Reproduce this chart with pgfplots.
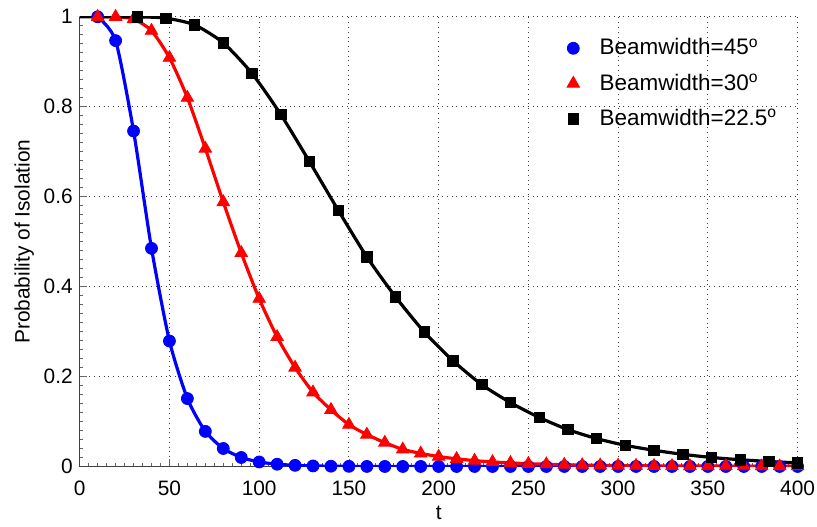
\documentclass[border=0pt]{standalone}
\usepackage{fontspec}
\setmainfont{Liberation Sans}
\usepackage{pgfplots}
\pgfplotsset{compat=1.18}
\usepackage{pgfplotstable}
\pgfplotsset{mylegend/.style={legend image code/.code={\draw[##1] plot coordinates {(0bp,0bp)};\path (-4bp,0bp) (11bp,0bp);}}}

\pgfplotstableread{
x y
10 1.000
20 0.947
30 0.746
40 0.485
50 0.279
60 0.151
70 0.078
80 0.040
90 0.020
100 0.010
110 0.005
120 0.0025
130 0.0012
140 0.0006
150 0.0003
160 0.0001
170 0
180 0
190 0
200 0
210 0
220 0
230 0
240 0
250 0
260 0
270 0
280 0
290 0
300 0
310 0
320 0
330 0
340 0
350 0
360 0
370 0
380 0
390 0
400 0
}\blueT

\pgfplotstableread{
x y
10 1.000
20 1.000
30 0.995
40 0.969
50 0.909
60 0.820
70 0.707
80 0.588
90 0.475
100 0.373
110 0.288
120 0.220
130 0.165
140 0.126
150 0.093
160 0.071
170 0.053
180 0.038
190 0.029
200 0.022
210 0.017
220 0.013
230 0.010
240 0.008
250 0.006
260 0.005
270 0.004
280 0.003
290 0.0025
300 0.002
310 0.0017
320 0.0014
330 0.0012
340 0.0010
350 0.0009
360 0.0008
370 0.0007
380 0.0006
390 0.0005
400 0.0005
}\redT

\pgfplotstableread{
x y
0 1.000
16 1.000
32 1.000
48 0.997
64 0.982
80 0.942
96 0.874
112 0.783
128 0.678
144 0.570
160 0.466
176 0.377
192 0.299
208 0.235
224 0.182
240 0.142
256 0.109
272 0.082
288 0.062
304 0.047
320 0.036
336 0.027
352 0.020
368 0.015
384 0.011
400 0.008
}\blackT

\begin{document}
\begin{tikzpicture}
\begin{axis}[
  scale only axis,
  width=360bp, height=225.5bp,
  xmin=0, xmax=400, ymin=0, ymax=1,
  axis lines*=left,
  axis line style={black!75, line width=0.6bp},
  xtick={0,50,...,400},
  ytick={0,0.2,0.4,0.6,0.8,1},
  minor x tick num=9,
  minor y tick num=9,
  tick align=inside,
  major tick length=3.5bp,
  minor tick length=1.8bp,
  tick style={black!60, line width=0.4bp},
  grid=major,
  major grid style={dotted, black!75, line width=0.5bp},
  /pgf/number format/assume math mode=true,
  tick label style={font=\fontsize{10.5}{12}\selectfont},
  xticklabel style={yshift=-3.5bp, inner xsep=1bp},
  label style={font=\fontsize{10.5}{12}\selectfont},
  xlabel={t},
  ylabel={Probability of Isolation},
  xlabel style={yshift=1.5bp},
  ylabel style={yshift=-2bp},
  legend style={draw=none, fill=none, at={(0.986,0.97)}, anchor=north east,
    font=\fontsize{11.3}{13}\selectfont, row sep=4bp},
  legend cell align=left,
]
\addplot[blue, line width=1.6bp, smooth, tension=0.4, forget plot] table {\blueT};
\addplot[blue, only marks, mark=*, mark size=3bp, mylegend] table {\blueT};
\addlegendentry{Beamwidth=45\textsuperscript{o}}
\addplot[red, line width=1.6bp, smooth, tension=0.4, forget plot] table {\redT};
\addplot[red, only marks, mark=triangle*, mark size=3.6bp, mylegend] table {\redT};
\addlegendentry{Beamwidth=30\textsuperscript{o}}
\addplot[black, line width=1.6bp, smooth, tension=0.4, forget plot] table {\blackT};
\addplot[black, only marks, mark=square*, mark size=2.6bp, mylegend,
  skip coords between index={0}{2}] table {\blackT};
\addlegendentry{Beamwidth=22.5\textsuperscript{o}}
\end{axis}
\path (current axis.outer west) ++(-4bp,0) coordinate (padL);
\path (current axis.outer north) ++(0,1.5bp) coordinate (padT);
\end{tikzpicture}
\end{document}
